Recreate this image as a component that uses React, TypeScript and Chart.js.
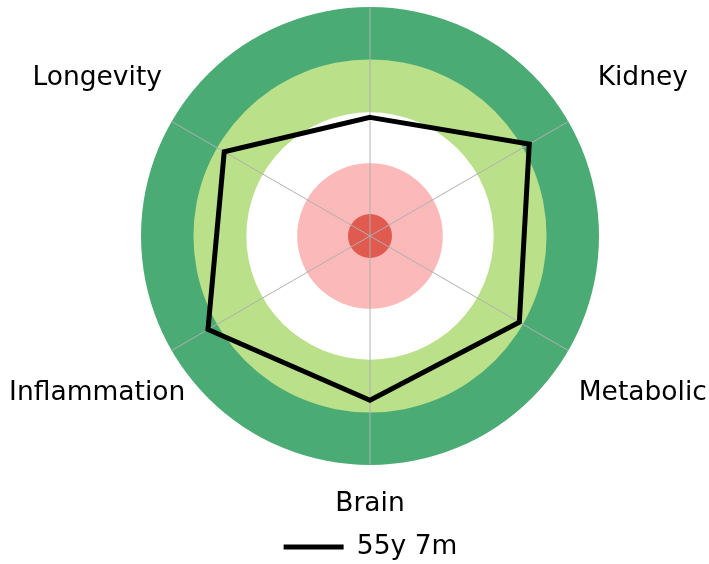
import React, { useEffect, useRef } from 'react';
import { Chart, registerables } from 'chart.js';

Chart.register(...registerables);

// ---- data ----
const categories: string[] = ['', 'Kidney', 'Metabolic', 'Brain', 'Inflammation', 'Longevity'];
const seriesLabel = '55y 7m';
const seriesValues: number[] = [51.8, 80.3, 75.3, 71.7, 81.7, 73.5];
// outer edges of the background bands (same radial scale, 0..100)
const bandEdges: number[] = [100, 77.1, 54.0, 31.8, 9.6];
const bandColors: string[] = ['#4bab74', '#bae08a', '#ffffff', '#fbb9b9', '#e05a50'];

const FONT = "'DejaVu Sans', sans-serif";
const FONT_SIZE = 26.5;

const bandsPlugin = {
  id: 'bands',
  beforeDraw(chart: any) {
    const s = chart.scales.r;
    const ctx = chart.ctx;
    ctx.save();
    bandEdges.forEach((v, i) => {
      ctx.beginPath();
      ctx.arc(s.xCenter, s.yCenter, s.getDistanceFromCenterForValue(v), 0, Math.PI * 2);
      ctx.fillStyle = bandColors[i];
      ctx.fill();
    });
    ctx.restore();
  },
};

const categoryLabelsPlugin = {
  id: 'categoryLabels',
  afterDraw(chart: any) {
    const s = chart.scales.r;
    const ctx = chart.ctx;
    ctx.save();
    ctx.font = `${FONT_SIZE}px ${FONT}`;
    ctx.fillStyle = '#000';
    ctx.textAlign = 'center';
    ctx.textBaseline = 'middle';
    categories.forEach((text, i) => {
      if (!text) return;
      const a = s.getIndexAngle(i);
      const vertical = Math.abs(Math.cos(a)) > 0.99;
      const p = s.getPointPosition(i, s.drawingArea + (vertical ? 39.5 : 86));
      ctx.fillText(text, p.x, p.y);
    });
    ctx.restore();
  },
};

export default function App() {
  const ref = useRef<HTMLCanvasElement>(null);
  useEffect(() => {
    const chart = new Chart(ref.current as HTMLCanvasElement, {
      type: 'radar',
      data: {
        labels: categories,
        datasets: [
          {
            label: seriesLabel,
            data: seriesValues,
            borderColor: '#000000',
            backgroundColor: 'transparent',
            borderWidth: 5,
            fill: false,
            pointRadius: 0,
            pointHoverRadius: 0,
            borderJoinStyle: 'miter',
            tension: 0,
          } as any,
        ],
      },
      options: {
        responsive: false,
        animation: false,
        layout: { padding: { left: 141, right: 109, top: 7, bottom: -6.25 } },
        scales: {
          r: {
            min: 0,
            max: 100,
            ticks: { display: false },
            grid: { display: false },
            angleLines: { display: true, color: '#b0b0b0', lineWidth: 1 },
            pointLabels: { display: false },
          },
        },
        plugins: {
          legend: {
            position: 'bottom',
            labels: {
              boxWidth: 60,
              boxHeight: 5,
              padding: 67.75,
              color: '#000',
              font: { family: FONT, size: FONT_SIZE },
              generateLabels: () => [
                {
                  text: seriesLabel,
                  fillStyle: '#000',
                  strokeStyle: '#000',
                  lineWidth: 0,
                  hidden: false,
                  datasetIndex: 0,
                } as any,
              ],
            },
          },
          tooltip: { enabled: false },
        },
      } as any,
      plugins: [bandsPlugin, categoryLabelsPlugin],
    });
    return () => chart.destroy();
  }, []);
  return (
    <div style={{ position: 'absolute', left: 0, top: 0, width: 709, height: 564 }}>
      <canvas ref={ref} width={709} height={564} style={{ display: 'block' }} />
    </div>
  );
}
